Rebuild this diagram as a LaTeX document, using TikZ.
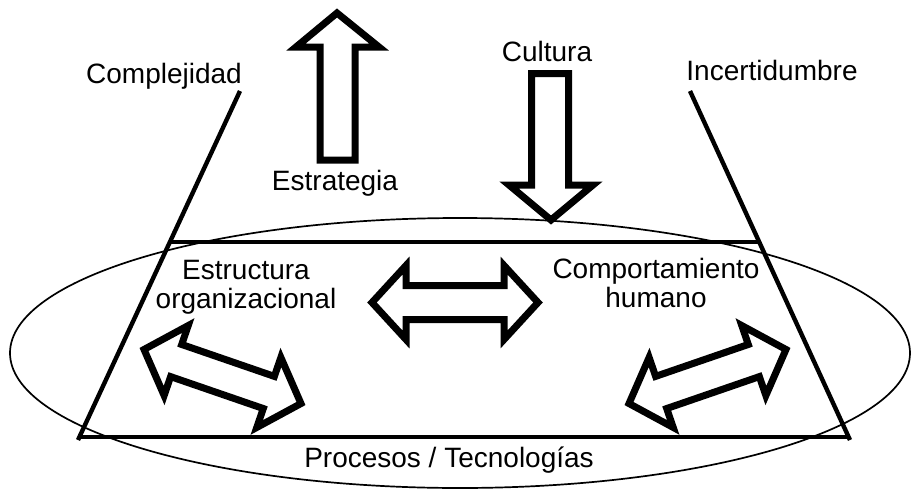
\documentclass[tikz,border=0pt]{standalone}
\usepackage{fontspec}
\setmainfont{Liberation Sans}
\tikzset{
	label text/.style={font=\fontsize{14}{14.5}\selectfont, inner sep=0pt},
	block arrow/.style={line width=3.5pt, fill=white, line join=miter},
	side line/.style={line width=2.2pt}
}

\begin{document}
\begin{tikzpicture}[x=.5pt, y=-.5pt]
	\useasboundingbox (0,0) rectangle (912,493);
	\draw[line width=.85pt] (460,353) ellipse [x radius=225pt, y radius=67.5pt];
	\draw[side line] (240,91) -- (78,440);
	\draw[side line] (690,91) -- (850,440);
	\draw[line width=2pt] (169,242) -- (760,242);
	\draw[line width=2pt] (80,437) -- (848,437);
	\draw[block arrow] (337,13) -- (379,47) -- (355,47) -- (355,160) -- (320,160) -- (320,47) -- (296,47) -- cycle;
	\draw[block arrow] (531.5,73.5) -- (568.5,73.5) -- (568.5,185) -- (593,185) -- (551,220) -- (509,185) -- (531.5,185) -- cycle;
	\foreach \cx/\cy/\rot in {455/302.5/0, 222.5/376.5/-19, 707.5/376.5/19} {
		\begin{scope}[shift={(\cx,\cy)}, rotate=\rot]
			\draw[block arrow] (-83,0) -- (-49,-37) -- (-49,-17) -- (49,-17) -- (49,-37) -- (83,0) -- (49,37) -- (49,17) -- (-49,17) -- (-49,37) -- cycle;
		\end{scope}
	}
	\node[label text, anchor=base] (complejidad) at (164,83) {Complejidad};
	\node[label text, anchor=base] (incertidumbre) at (772,80) {Incertidumbre};
	\node[label text, anchor=base] (cultura) at (547,61) {Cultura};
	\node[label text, anchor=base] (estrategia) at (335,190) {Estrategia};
	\node[label text, align=center] (estructura) at (246,287) {Estructura\\organizacional};
	\node[label text, align=center] (comportamiento) at (656,283) {Comportamiento\\humano};
	\node[label text, anchor=base] (procesos) at (449,467) {Procesos / Tecnologías};
\end{tikzpicture}
\end{document}
